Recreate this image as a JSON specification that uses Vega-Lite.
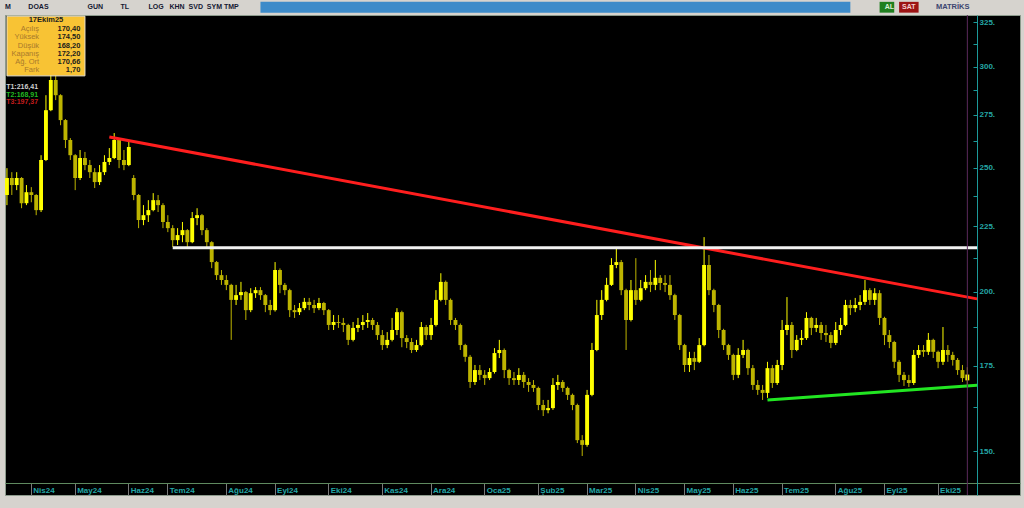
{
"$schema":"https://vega.github.io/schema/vega-lite/v6.json",
"width":1015,"height":480,
"autosize":{"type":"none"},
"padding":{"left":5,"top":15,"right":4,"bottom":13},
"background":"#d6d3ce",
"config":{"view":{"fill":"#000000","stroke":"#8c9a8c","strokeWidth":1},"font":"Liberation Sans"},
"datasets":{"mum":[
{"d":"2024-03-15","o":238.0,"h":249.8,"l":233.7,"c":245.4},
{"d":"2024-03-19","o":245.4,"h":248.0,"l":238.0,"c":242.3},
{"d":"2024-03-21","o":242.3,"h":248.0,"l":240.1,"c":245.4},
{"d":"2024-03-25","o":245.4,"h":245.8,"l":232.4,"c":234.5},
{"d":"2024-03-28","o":234.5,"h":242.3,"l":233.7,"c":239.2},
{"d":"2024-04-01","o":239.2,"h":241.4,"l":234.9,"c":238.0},
{"d":"2024-04-03","o":238.0,"h":238.4,"l":229.5,"c":231.6},
{"d":"2024-04-05","o":231.6,"h":255.7,"l":230.8,"c":253.5},
{"d":"2024-04-15","o":253.5,"h":284.9,"l":253.0,"c":277.3},
{"d":"2024-04-17","o":277.3,"h":298.1,"l":276.8,"c":292.8},
{"d":"2024-04-19","o":292.8,"h":295.4,"l":282.4,"c":284.9},
{"d":"2024-04-22","o":284.9,"h":285.4,"l":269.9,"c":272.4},
{"d":"2024-04-25","o":272.4,"h":272.9,"l":259.0,"c":262.8},
{"d":"2024-04-29","o":262.8,"h":263.7,"l":253.5,"c":255.7},
{"d":"2024-05-02","o":255.7,"h":256.2,"l":240.1,"c":245.4},
{"d":"2024-05-06","o":245.4,"h":258.1,"l":244.5,"c":254.4},
{"d":"2024-05-08","o":254.4,"h":257.2,"l":248.9,"c":251.2},
{"d":"2024-05-10","o":251.2,"h":253.5,"l":245.4,"c":248.0},
{"d":"2024-05-14","o":248.0,"h":249.8,"l":241.0,"c":243.6},
{"d":"2024-05-16","o":243.6,"h":251.2,"l":242.3,"c":248.0},
{"d":"2024-05-20","o":248.0,"h":255.7,"l":246.7,"c":252.6},
{"d":"2024-05-22","o":252.6,"h":259.0,"l":251.2,"c":254.4},
{"d":"2024-05-24","o":254.4,"h":266.1,"l":253.9,"c":262.8},
{"d":"2024-05-28","o":262.8,"h":263.2,"l":249.8,"c":253.5},
{"d":"2024-05-30","o":253.5,"h":258.1,"l":248.9,"c":251.2},
{"d":"2024-06-03","o":251.2,"h":261.9,"l":250.7,"c":259.5},
{"d":"2024-06-05","o":245.4,"h":246.7,"l":235.8,"c":238.0},
{"d":"2024-06-07","o":238.0,"h":238.4,"l":224.2,"c":227.5},
{"d":"2024-06-11","o":227.5,"h":233.7,"l":225.4,"c":229.5},
{"d":"2024-06-13","o":229.5,"h":235.8,"l":226.7,"c":231.6},
{"d":"2024-06-20","o":231.6,"h":238.8,"l":231.1,"c":235.8},
{"d":"2024-06-24","o":235.8,"h":238.0,"l":230.8,"c":233.7},
{"d":"2024-06-27","o":233.7,"h":234.5,"l":224.2,"c":226.7},
{"d":"2024-07-01","o":226.7,"h":229.5,"l":222.6,"c":224.2},
{"d":"2024-07-03","o":224.2,"h":225.4,"l":216.7,"c":219.4},
{"d":"2024-07-05","o":219.4,"h":224.2,"l":217.5,"c":221.4},
{"d":"2024-07-08","o":221.4,"h":226.7,"l":218.6,"c":223.4},
{"d":"2024-07-10","o":223.4,"h":223.8,"l":216.7,"c":218.6},
{"d":"2024-07-12","o":218.6,"h":230.8,"l":218.2,"c":228.3},
{"d":"2024-07-16","o":228.3,"h":232.4,"l":225.4,"c":229.5},
{"d":"2024-07-18","o":229.5,"h":230.0,"l":221.4,"c":223.4},
{"d":"2024-07-22","o":223.4,"h":224.2,"l":216.7,"c":218.6},
{"d":"2024-07-24","o":218.6,"h":219.0,"l":208.6,"c":210.9},
{"d":"2024-07-26","o":210.9,"h":211.3,"l":204.2,"c":206.0},
{"d":"2024-07-30","o":206.0,"h":207.9,"l":202.4,"c":204.2},
{"d":"2024-08-01","o":204.2,"h":206.0,"l":200.5,"c":202.4},
{"d":"2024-08-05","o":202.4,"h":202.8,"l":183.3,"c":197.0},
{"d":"2024-08-07","o":197.0,"h":202.4,"l":195.2,"c":198.7},
{"d":"2024-08-09","o":198.7,"h":203.5,"l":197.0,"c":199.8},
{"d":"2024-08-13","o":199.8,"h":200.2,"l":190.0,"c":193.4},
{"d":"2024-08-15","o":193.4,"h":201.2,"l":192.7,"c":199.4},
{"d":"2024-08-19","o":199.4,"h":201.6,"l":197.7,"c":200.5},
{"d":"2024-08-21","o":200.5,"h":201.6,"l":197.0,"c":198.7},
{"d":"2024-08-23","o":198.7,"h":199.1,"l":192.7,"c":195.2},
{"d":"2024-08-27","o":195.2,"h":197.0,"l":191.7,"c":193.4},
{"d":"2024-09-02","o":193.4,"h":210.9,"l":192.9,"c":207.9},
{"d":"2024-09-04","o":207.9,"h":208.5,"l":199.4,"c":202.4},
{"d":"2024-09-06","o":202.4,"h":203.1,"l":198.7,"c":200.5},
{"d":"2024-09-10","o":200.5,"h":201.0,"l":191.0,"c":193.4},
{"d":"2024-09-12","o":193.4,"h":195.2,"l":190.7,"c":192.7},
{"d":"2024-09-16","o":192.7,"h":195.9,"l":191.7,"c":194.1},
{"d":"2024-09-18","o":194.1,"h":197.7,"l":193.4,"c":196.3},
{"d":"2024-09-20","o":196.3,"h":197.7,"l":193.4,"c":195.2},
{"d":"2024-09-24","o":195.2,"h":197.0,"l":192.4,"c":194.1},
{"d":"2024-09-26","o":194.1,"h":197.7,"l":193.4,"c":195.9},
{"d":"2024-09-30","o":195.9,"h":196.3,"l":191.7,"c":193.4},
{"d":"2024-10-02","o":193.4,"h":193.8,"l":186.6,"c":188.3},
{"d":"2024-10-04","o":188.3,"h":191.7,"l":186.6,"c":189.3},
{"d":"2024-10-08","o":189.3,"h":191.7,"l":187.3,"c":189.0},
{"d":"2024-10-10","o":189.0,"h":190.7,"l":185.9,"c":188.3},
{"d":"2024-10-14","o":188.3,"h":188.7,"l":181.6,"c":183.3},
{"d":"2024-10-16","o":183.3,"h":189.3,"l":182.8,"c":187.3},
{"d":"2024-10-18","o":187.3,"h":190.7,"l":185.9,"c":188.3},
{"d":"2024-10-22","o":188.3,"h":191.7,"l":186.6,"c":189.3},
{"d":"2024-10-24","o":189.3,"h":192.4,"l":187.3,"c":190.0},
{"d":"2024-10-28","o":190.0,"h":190.7,"l":186.6,"c":188.3},
{"d":"2024-10-31","o":188.3,"h":189.3,"l":183.3,"c":184.9},
{"d":"2024-11-04","o":184.9,"h":186.6,"l":180.0,"c":181.6},
{"d":"2024-11-06","o":181.6,"h":185.9,"l":180.6,"c":183.3},
{"d":"2024-11-08","o":183.3,"h":190.7,"l":182.8,"c":186.6},
{"d":"2024-11-12","o":186.6,"h":194.1,"l":184.9,"c":192.7},
{"d":"2024-11-14","o":192.7,"h":193.2,"l":180.9,"c":183.9},
{"d":"2024-11-18","o":183.9,"h":184.9,"l":180.6,"c":182.6},
{"d":"2024-11-20","o":182.6,"h":183.9,"l":179.0,"c":180.0},
{"d":"2024-11-22","o":180.0,"h":183.3,"l":179.4,"c":181.6},
{"d":"2024-11-26","o":181.6,"h":189.3,"l":181.2,"c":187.6},
{"d":"2024-11-28","o":187.6,"h":188.3,"l":183.3,"c":184.9},
{"d":"2024-12-02","o":184.9,"h":190.7,"l":183.3,"c":188.3},
{"d":"2024-12-04","o":188.3,"h":200.5,"l":187.8,"c":197.0},
{"d":"2024-12-06","o":197.0,"h":206.7,"l":196.5,"c":203.5},
{"d":"2024-12-10","o":203.5,"h":204.0,"l":195.2,"c":197.0},
{"d":"2024-12-12","o":197.0,"h":197.5,"l":188.3,"c":190.0},
{"d":"2024-12-16","o":190.0,"h":190.7,"l":186.6,"c":188.3},
{"d":"2024-12-18","o":188.3,"h":188.8,"l":180.0,"c":181.6},
{"d":"2024-12-20","o":181.6,"h":182.0,"l":176.2,"c":177.8},
{"d":"2024-12-24","o":177.8,"h":178.4,"l":168.1,"c":169.9},
{"d":"2024-12-26","o":169.9,"h":175.2,"l":169.0,"c":173.6},
{"d":"2024-12-30","o":173.6,"h":175.2,"l":170.5,"c":172.1},
{"d":"2025-01-02","o":172.1,"h":173.6,"l":169.0,"c":171.1},
{"d":"2025-01-06","o":171.1,"h":174.2,"l":170.5,"c":173.0},
{"d":"2025-01-08","o":173.0,"h":180.6,"l":172.5,"c":179.0},
{"d":"2025-01-10","o":179.0,"h":183.3,"l":177.4,"c":180.0},
{"d":"2025-01-14","o":180.0,"h":180.5,"l":171.1,"c":173.6},
{"d":"2025-01-16","o":173.6,"h":174.0,"l":169.0,"c":171.1},
{"d":"2025-01-20","o":171.1,"h":173.0,"l":169.0,"c":170.5},
{"d":"2025-01-22","o":170.5,"h":174.2,"l":169.0,"c":172.1},
{"d":"2025-01-24","o":172.1,"h":173.0,"l":168.1,"c":169.9},
{"d":"2025-01-28","o":169.9,"h":171.1,"l":166.9,"c":169.0},
{"d":"2025-01-30","o":169.0,"h":170.5,"l":166.9,"c":168.1},
{"d":"2025-02-03","o":168.1,"h":168.5,"l":161.5,"c":163.0},
{"d":"2025-02-05","o":163.0,"h":164.5,"l":159.8,"c":161.5},
{"d":"2025-02-07","o":161.5,"h":164.5,"l":160.6,"c":162.1},
{"d":"2025-02-11","o":162.1,"h":171.1,"l":161.6,"c":169.0},
{"d":"2025-02-13","o":169.0,"h":172.1,"l":167.5,"c":169.9},
{"d":"2025-02-17","o":169.9,"h":170.5,"l":166.9,"c":168.1},
{"d":"2025-02-19","o":168.1,"h":168.5,"l":164.5,"c":166.0},
{"d":"2025-02-21","o":166.0,"h":166.4,"l":161.5,"c":163.0},
{"d":"2025-02-25","o":163.0,"h":163.4,"l":152.2,"c":153.0},
{"d":"2025-02-27","o":153.0,"h":154.4,"l":148.7,"c":151.7},
{"d":"2025-03-03","o":151.7,"h":167.5,"l":151.2,"c":166.0},
{"d":"2025-03-05","o":166.0,"h":182.3,"l":165.6,"c":180.0},
{"d":"2025-03-07","o":180.0,"h":197.0,"l":179.6,"c":191.7},
{"d":"2025-03-11","o":191.7,"h":200.5,"l":190.0,"c":197.0},
{"d":"2025-03-13","o":197.0,"h":205.0,"l":196.5,"c":202.4},
{"d":"2025-03-17","o":202.4,"h":212.4,"l":202.0,"c":209.8},
{"d":"2025-03-19","o":209.8,"h":216.7,"l":208.6,"c":210.9},
{"d":"2025-03-21","o":210.9,"h":211.7,"l":198.7,"c":200.5},
{"d":"2025-03-25","o":200.5,"h":201.0,"l":180.0,"c":190.0},
{"d":"2025-03-27","o":190.0,"h":204.2,"l":189.5,"c":200.5},
{"d":"2025-04-02","o":200.5,"h":212.4,"l":195.2,"c":197.0},
{"d":"2025-04-04","o":197.0,"h":204.2,"l":196.5,"c":201.2},
{"d":"2025-04-08","o":201.2,"h":206.0,"l":200.5,"c":203.5},
{"d":"2025-04-10","o":203.5,"h":207.9,"l":199.8,"c":202.4},
{"d":"2025-04-14","o":202.4,"h":211.7,"l":200.5,"c":205.0},
{"d":"2025-04-16","o":205.0,"h":206.0,"l":200.5,"c":203.1},
{"d":"2025-04-18","o":203.1,"h":206.0,"l":199.8,"c":202.4},
{"d":"2025-04-22","o":202.4,"h":206.0,"l":197.0,"c":198.7},
{"d":"2025-04-25","o":198.7,"h":199.2,"l":190.0,"c":191.7},
{"d":"2025-04-29","o":191.7,"h":192.1,"l":180.0,"c":181.6},
{"d":"2025-05-02","o":181.6,"h":182.0,"l":173.0,"c":175.2},
{"d":"2025-05-06","o":175.2,"h":179.4,"l":173.0,"c":177.4},
{"d":"2025-05-08","o":177.4,"h":179.4,"l":173.6,"c":176.2},
{"d":"2025-05-12","o":176.2,"h":183.9,"l":175.8,"c":181.6},
{"d":"2025-05-14","o":181.6,"h":220.6,"l":181.2,"c":209.8},
{"d":"2025-05-16","o":209.8,"h":213.6,"l":198.7,"c":200.5},
{"d":"2025-05-21","o":200.5,"h":201.0,"l":192.7,"c":195.2},
{"d":"2025-05-23","o":195.2,"h":195.6,"l":183.9,"c":186.6},
{"d":"2025-05-27","o":186.6,"h":187.0,"l":180.0,"c":181.6},
{"d":"2025-05-29","o":181.6,"h":182.0,"l":176.8,"c":178.4},
{"d":"2025-06-02","o":178.4,"h":178.8,"l":170.5,"c":172.1},
{"d":"2025-06-04","o":172.1,"h":180.6,"l":171.1,"c":178.4},
{"d":"2025-06-11","o":178.4,"h":183.3,"l":177.4,"c":180.0},
{"d":"2025-06-13","o":180.0,"h":180.4,"l":172.1,"c":174.2},
{"d":"2025-06-17","o":174.2,"h":175.2,"l":167.5,"c":169.0},
{"d":"2025-06-19","o":169.0,"h":170.5,"l":166.0,"c":167.5},
{"d":"2025-06-23","o":167.5,"h":169.0,"l":164.5,"c":166.6},
{"d":"2025-06-25","o":166.6,"h":176.2,"l":165.1,"c":174.2},
{"d":"2025-06-27","o":174.2,"h":175.2,"l":168.1,"c":169.6},
{"d":"2025-06-30","o":169.6,"h":176.8,"l":169.0,"c":175.2},
{"d":"2025-07-01","o":175.2,"h":190.0,"l":173.6,"c":186.6},
{"d":"2025-07-03","o":186.6,"h":198.0,"l":184.9,"c":188.3},
{"d":"2025-07-07","o":188.3,"h":189.3,"l":177.4,"c":180.0},
{"d":"2025-07-09","o":180.0,"h":184.9,"l":179.6,"c":183.3},
{"d":"2025-07-11","o":183.3,"h":186.6,"l":181.6,"c":183.9},
{"d":"2025-07-16","o":183.9,"h":192.7,"l":183.3,"c":190.7},
{"d":"2025-07-18","o":190.7,"h":191.1,"l":184.9,"c":187.3},
{"d":"2025-07-22","o":187.3,"h":190.7,"l":185.9,"c":188.3},
{"d":"2025-07-24","o":188.3,"h":189.3,"l":183.3,"c":185.6},
{"d":"2025-07-28","o":185.6,"h":188.3,"l":182.6,"c":184.9},
{"d":"2025-07-30","o":184.9,"h":185.9,"l":180.6,"c":182.3},
{"d":"2025-08-01","o":182.3,"h":189.3,"l":181.6,"c":186.6},
{"d":"2025-08-05","o":186.6,"h":190.7,"l":184.9,"c":188.3},
{"d":"2025-08-07","o":188.3,"h":197.0,"l":187.9,"c":195.2},
{"d":"2025-08-11","o":195.2,"h":197.0,"l":191.7,"c":194.1},
{"d":"2025-08-13","o":194.1,"h":197.7,"l":192.7,"c":195.2},
{"d":"2025-08-15","o":195.2,"h":198.7,"l":193.4,"c":196.3},
{"d":"2025-08-19","o":196.3,"h":204.2,"l":195.2,"c":200.5},
{"d":"2025-08-21","o":200.5,"h":201.2,"l":195.2,"c":197.0},
{"d":"2025-08-25","o":197.0,"h":201.2,"l":195.2,"c":199.4},
{"d":"2025-08-27","o":199.4,"h":200.5,"l":188.3,"c":190.7},
{"d":"2025-09-01","o":190.7,"h":191.1,"l":181.6,"c":184.9},
{"d":"2025-09-03","o":184.9,"h":186.6,"l":180.6,"c":182.6},
{"d":"2025-09-05","o":182.6,"h":183.0,"l":174.2,"c":176.2},
{"d":"2025-09-09","o":176.2,"h":176.8,"l":169.9,"c":172.1},
{"d":"2025-09-11","o":172.1,"h":173.0,"l":168.7,"c":170.5},
{"d":"2025-09-15","o":170.5,"h":172.1,"l":168.4,"c":169.6},
{"d":"2025-09-17","o":169.6,"h":180.0,"l":169.0,"c":178.4},
{"d":"2025-09-19","o":178.4,"h":181.6,"l":177.4,"c":180.0},
{"d":"2025-09-23","o":180.0,"h":181.6,"l":177.8,"c":179.4},
{"d":"2025-09-25","o":179.4,"h":185.6,"l":178.4,"c":183.3},
{"d":"2025-09-29","o":183.3,"h":183.7,"l":177.4,"c":179.4},
{"d":"2025-10-01","o":179.4,"h":179.8,"l":174.2,"c":176.2},
{"d":"2025-10-03","o":176.2,"h":187.6,"l":175.2,"c":180.0},
{"d":"2025-10-07","o":180.0,"h":181.6,"l":176.2,"c":178.4},
{"d":"2025-10-09","o":178.4,"h":179.4,"l":175.0,"c":176.8},
{"d":"2025-10-13","o":176.8,"h":177.4,"l":172.1,"c":173.6},
{"d":"2025-10-15","o":173.6,"h":175.2,"l":169.9,"c":171.1},
{"d":"2025-10-17","o":170.4,"h":174.5,"l":168.2,"c":172.2}
]},
"layer":[
{"data":{"name":"mum"},"mark":{"type":"rule","strokeWidth":1},
 "encoding":{
  "x":{"field":"d","type":"ordinal","title":null,
   "scale":{"paddingInner":0.2,"paddingOuter":0.2,"align":0,
    "domain":["2024-03-15","2024-03-19","2024-03-21","2024-03-25","2024-03-28","2024-04-01","2024-04-03","2024-04-05","2024-04-15","2024-04-17","2024-04-19","2024-04-22","2024-04-25","2024-04-29","2024-05-02","2024-05-06","2024-05-08","2024-05-10","2024-05-14","2024-05-16","2024-05-20","2024-05-22","2024-05-24","2024-05-28","2024-05-30","2024-06-03","2024-06-05","2024-06-07","2024-06-11","2024-06-13","2024-06-20","2024-06-24","2024-06-27","2024-07-01","2024-07-03","2024-07-05","2024-07-08","2024-07-10","2024-07-12","2024-07-16","2024-07-18","2024-07-22","2024-07-24","2024-07-26","2024-07-30","2024-08-01","2024-08-05","2024-08-07","2024-08-09","2024-08-13","2024-08-15","2024-08-19","2024-08-21","2024-08-23","2024-08-27","2024-09-02","2024-09-04","2024-09-06","2024-09-10","2024-09-12","2024-09-16","2024-09-18","2024-09-20","2024-09-24","2024-09-26","2024-09-30","2024-10-02","2024-10-04","2024-10-08","2024-10-10","2024-10-14","2024-10-16","2024-10-18","2024-10-22","2024-10-24","2024-10-28","2024-10-31","2024-11-04","2024-11-06","2024-11-08","2024-11-12","2024-11-14","2024-11-18","2024-11-20","2024-11-22","2024-11-26","2024-11-28","2024-12-02","2024-12-04","2024-12-06","2024-12-10","2024-12-12","2024-12-16","2024-12-18","2024-12-20","2024-12-24","2024-12-26","2024-12-30","2025-01-02","2025-01-06","2025-01-08","2025-01-10","2025-01-14","2025-01-16","2025-01-20","2025-01-22","2025-01-24","2025-01-28","2025-01-30","2025-02-03","2025-02-05","2025-02-07","2025-02-11","2025-02-13","2025-02-17","2025-02-19","2025-02-21","2025-02-25","2025-02-27","2025-03-03","2025-03-05","2025-03-07","2025-03-11","2025-03-13","2025-03-17","2025-03-19","2025-03-21","2025-03-25","2025-03-27","2025-04-02","2025-04-04","2025-04-08","2025-04-10","2025-04-14","2025-04-16","2025-04-18","2025-04-22","2025-04-25","2025-04-29","2025-05-02","2025-05-06","2025-05-08","2025-05-12","2025-05-14","2025-05-16","2025-05-21","2025-05-23","2025-05-27","2025-05-29","2025-06-02","2025-06-04","2025-06-11","2025-06-13","2025-06-17","2025-06-19","2025-06-23","2025-06-25","2025-06-27","2025-06-30","2025-07-01","2025-07-03","2025-07-07","2025-07-09","2025-07-11","2025-07-16","2025-07-18","2025-07-22","2025-07-24","2025-07-28","2025-07-30","2025-08-01","2025-08-05","2025-08-07","2025-08-11","2025-08-13","2025-08-15","2025-08-19","2025-08-21","2025-08-25","2025-08-27","2025-09-01","2025-09-03","2025-09-05","2025-09-09","2025-09-11","2025-09-15","2025-09-17","2025-09-19","2025-09-23","2025-09-25","2025-09-29","2025-10-01","2025-10-03","2025-10-07","2025-10-09","2025-10-13","2025-10-15","2025-10-17","2025-10-20","2025-10-21","2025-10-22","2025-10-23","2025-10-24","2025-10-27","2025-10-28","2025-10-30","2025-10-31","2025-11-03"]},
   "axis":{"orient":"bottom","offset":-12,"values":["2024-04-01","2024-05-02","2024-06-03","2024-07-01","2024-08-01","2024-09-02","2024-10-02","2024-11-04","2024-12-02","2025-01-02","2025-02-03","2025-03-03","2025-04-02","2025-05-02","2025-06-02","2025-07-01","2025-08-01","2025-09-01","2025-10-01"],
    "labelExpr":"['Oca','Şub','Mar','Nis','May','Haz','Tem','Ağu','Eyl','Eki','Kas','Ara'][toNumber(substring(datum.value,5,7))-1] + substring(datum.value,2,4)",
    "domainColor":"#5f8a5f","tickColor":"#7a7a7a","tickSize":12,"labelColor":"#23a6a6","labelAlign":"left","labelBaseline":"top","labelPadding":-9,"labelOffset":2,"labelAngle":0,"labelFont":"Liberation Sans","labelFontSize":8,"labelFontWeight":"bold","labelOverlap":false,"labelFlush":false,"labelBound":false,"grid":false,"title":null}},
  "y":{"field":"l","type":"quantitative","title":null,
   "scale":{"type":"log","domain":[138.6,329.2],"nice":false,"zero":false},
   "axis":{"orient":"right","offset":-43,"values":[150,162.5,175,187.5,200,212.5,225,237.5,250,262.5,275,287.5,300,312.5,325],
    "labelExpr":"datum.value % 25 === 0 ? datum.value + '.' : ''",
    "tickSize":-4,"labelPadding":6,"domainColor":"#1c9a9a","tickColor":"#1c9a9a","labelColor":"#25a7a7","labelFont":"Liberation Sans","labelFontSize":8,"labelFontWeight":"bold","labelAlign":"left","labelBaseline":"middle","grid":false,"title":null,"labelOverlap":false,"labelBound":false,"labelFlush":false}},
  "y2":{"field":"h"},
  "color":{"condition":{"test":"datum.c >= datum.o","value":"#ffff00"},"value":"#bdb400"}
 }},
{"data":{"name":"mum"},"mark":{"type":"bar"},
 "encoding":{
  "x":{"field":"d","type":"ordinal","title":null},
  "y":{"field":"o","type":"quantitative","title":null},
  "y2":{"field":"c"},
  "color":{"condition":{"test":"datum.c >= datum.o","value":"#ffff00"},"value":"#bdb400"}
 }},
{"data":{"values":[
  {"cizgi":"T3","d":"2024-05-22","v":264.2},{"cizgi":"T3","d":"2025-10-21","v":197.37},
  {"cizgi":"T1","d":"2024-07-03","v":216.41},{"cizgi":"T1","d":"2025-10-21","v":216.41},
  {"cizgi":"T2","d":"2025-06-25","v":164.5},{"cizgi":"T2","d":"2025-10-21","v":168.91}]},
 "mark":{"type":"line","strokeWidth":3},
 "encoding":{
  "x":{"field":"d","type":"ordinal","title":null},
  "y":{"field":"v","type":"quantitative","title":null},
  "detail":{"field":"cizgi"},
  "color":{"field":"cizgi","type":"nominal","legend":null,"scale":{"domain":["T1","T2","T3"],"range":["#f2f2f2","#22e622","#ff1e1e"]}}
 }},
{"data":{"values":[{"d":"2025-10-17"}]},"mark":{"type":"rule","color":"#5c2a5c","strokeWidth":1},
 "encoding":{"x":{"field":"d","type":"ordinal","title":null}}},
{"data":{"values":[{"tarih":"17Ekim25","etiket":"Açılış\nYüksek\nDüşük\nKapanış\nAğ. Ort\nFark","deger":"170,40\n174,50\n168,20\n172,20\n170,66\n1,70"}]},
 "layer":[
  {"mark":{"type":"rect","fill":"#f8c334","stroke":"#efe6cf","strokeWidth":1},
   "encoding":{"x":{"datum":"2024-03-15","type":"ordinal","title":null},"x2":{"datum":"2024-05-08"},
    "y":{"datum":328.5,"type":"quantitative","title":null},"y2":{"datum":295.0}}},
  {"mark":{"type":"text","font":"Liberation Sans","fontSize":7.5,"fontWeight":"bold","color":"#222222","align":"center","baseline":"middle"},
   "encoding":{"x":{"datum":"2024-04-15","type":"ordinal","title":null},"y":{"datum":326.2,"type":"quantitative","title":null},"text":{"field":"tarih"}}},
  {"mark":{"type":"text","font":"Liberation Sans","fontSize":7.5,"color":"#a8792c","align":"right","baseline":"middle","lineBreak":"\n","lineHeight":8.14},
   "encoding":{"x":{"datum":"2024-04-05","type":"ordinal","title":null,"bandPosition":0},"y":{"datum":320.8,"type":"quantitative","title":null},"text":{"field":"etiket"}}},
  {"mark":{"type":"text","font":"Liberation Sans","fontSize":7.5,"fontWeight":"bold","color":"#1c1c1c","align":"right","baseline":"middle","lineBreak":"\n","lineHeight":8.14},
   "encoding":{"x":{"datum":"2024-05-06","type":"ordinal","title":null,"bandPosition":0.6},"y":{"datum":320.8,"type":"quantitative","title":null},"text":{"field":"deger"}}}
 ]},
{"data":{"values":[{"t":"T1:216,41"}]},"mark":{"type":"text","font":"Liberation Sans","fontSize":7,"fontWeight":"bold","color":"#cfcfcf","align":"left","baseline":"middle"},
 "encoding":{"x":{"datum":"2024-03-15","type":"ordinal","title":null,"bandPosition":0.3},"y":{"datum":289.2,"type":"quantitative","title":null},"text":{"field":"t"}}},
{"data":{"values":[{"t":"T2:168,91"}]},"mark":{"type":"text","font":"Liberation Sans","fontSize":7,"fontWeight":"bold","color":"#22b822","align":"left","baseline":"middle"},
 "encoding":{"x":{"datum":"2024-03-15","type":"ordinal","title":null,"bandPosition":0.3},"y":{"datum":285.2,"type":"quantitative","title":null},"text":{"field":"t"}}},
{"data":{"values":[{"t":"T3:197,37"}]},"mark":{"type":"text","font":"Liberation Sans","fontSize":7,"fontWeight":"bold","color":"#c41c1c","align":"left","baseline":"middle"},
 "encoding":{"x":{"datum":"2024-03-15","type":"ordinal","title":null,"bandPosition":0.3},"y":{"datum":281.2,"type":"quantitative","title":null},"text":{"field":"t"}}},
{"data":{"values":[{"metin":"M\u00a0\u00a0\u00a0\u00a0\u00a0\u00a0\u00a0\u00a0\u00a0DOAS\u00a0\u00a0\u00a0\u00a0\u00a0\u00a0\u00a0\u00a0\u00a0\u00a0\u00a0\u00a0\u00a0\u00a0\u00a0\u00a0\u00a0\u00a0\u00a0\u00a0GUN\u00a0\u00a0\u00a0\u00a0\u00a0\u00a0\u00a0\u00a0\u00a0TL\u00a0\u00a0\u00a0\u00a0\u00a0\u00a0\u00a0\u00a0\u00a0\u00a0LOG\u00a0\u00a0\u00a0KHN\u00a0\u00a0SVD\u00a0\u00a0SYM\u00a0TMP"}]},
 "mark":{"type":"text","font":"Liberation Sans","fontSize":7,"fontWeight":"bold","color":"#141832","align":"left","baseline":"middle"},
 "encoding":{"x":{"datum":"2024-03-15","type":"ordinal","title":null,"bandPosition":0},"y":{"datum":333.7,"type":"quantitative","title":null},"text":{"field":"metin"}}},
{"data":{"values":[{}]},"mark":{"type":"rect","fill":"#3d8bc9"},
 "encoding":{"x":{"datum":"2024-08-21","type":"ordinal","title":null},"x2":{"datum":"2025-08-11"},"y":{"datum":337.1,"type":"quantitative","title":null},"y2":{"datum":330.6}}},
{"data":{"values":[{}]},"mark":{"type":"rect","fill":"#1f7f1f"},
 "encoding":{"x":{"datum":"2025-08-27","type":"ordinal","title":null},"x2":{"datum":"2025-09-05"},"y":{"datum":337.1,"type":"quantitative","title":null},"y2":{"datum":330.6}}},
{"data":{"values":[{}]},"mark":{"type":"rect","fill":"#9c1414"},
 "encoding":{"x":{"datum":"2025-09-09","type":"ordinal","title":null},"x2":{"datum":"2025-09-19"},"y":{"datum":337.1,"type":"quantitative","title":null},"y2":{"datum":330.6}}},
{"data":{"values":[{"t":"AL"}]},"mark":{"type":"text","font":"Liberation Sans","fontSize":7,"fontWeight":"bold","color":"#d8f0d8","align":"center","baseline":"middle"},
 "encoding":{"x":{"datum":"2025-09-03","type":"ordinal","title":null},"y":{"datum":333.7,"type":"quantitative","title":null},"text":{"field":"t"}}},
{"data":{"values":[{"t":"SAT"}]},"mark":{"type":"text","font":"Liberation Sans","fontSize":7,"fontWeight":"bold","color":"#f4d0d0","align":"center","baseline":"middle"},
 "encoding":{"x":{"datum":"2025-09-15","type":"ordinal","title":null},"y":{"datum":333.7,"type":"quantitative","title":null},"text":{"field":"t"}}},
{"data":{"values":[{"t":"MATRİKS"}]},"mark":{"type":"text","font":"Liberation Sans","fontSize":7.5,"fontWeight":"bold","color":"#3c4670","align":"center","baseline":"middle"},
 "encoding":{"x":{"datum":"2025-10-09","type":"ordinal","title":null},"y":{"datum":333.7,"type":"quantitative","title":null},"text":{"field":"t"}}}
]
}
